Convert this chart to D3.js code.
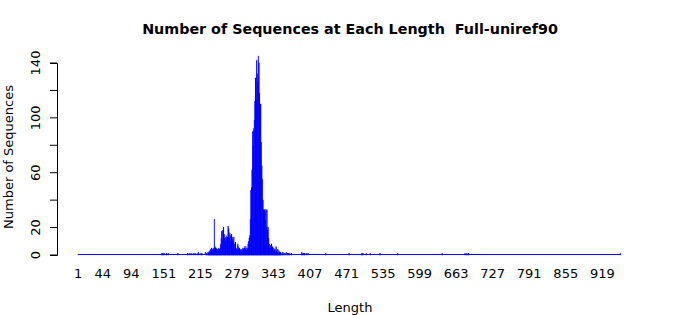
<!DOCTYPE html>
<html>
<head>
<meta charset="utf-8">
<script src="https://cdn.jsdelivr.net/npm/d3@7"></script>
<style>
body { margin: 0; background: #fff; }
text { font-family: "DejaVu Sans", sans-serif; }
</style>
</head>
<body>
<script>
// lengths that have sequences, and how many at each (all other lengths = 0)
var maxLength = 951;
var lengths = [148,150,152,156,159,176,193,196,199,203,206,210,212,215,218,224,226,227,
  229,230,231,232,233,234,235,236,237,238,239,240,241,242,243,244,245,246,247,248,249,250,
  251,252,253,254,255,256,257,258,259,260,261,262,263,264,265,266,267,268,269,270,
  271,272,273,274,275,276,277,278,279,280,281,282,283,284,285,286,287,288,289,290,
  291,292,293,294,295,296,297,298,299,300,301,302,303,304,305,306,307,308,309,310,
  311,312,313,314,315,316,317,318,319,320,321,322,323,324,325,326,327,328,329,330,
  331,332,333,334,335,336,337,338,339,340,341,342,343,344,345,346,347,348,349,350,
  351,352,353,354,355,356,358,360,362,364,366,368,370,372,375,393,394,396,398,401,404,
  435,476,498,500,506,513,530,561,639,679,682,685,951];
var counts = [1,1,1,1,1,1,1,1,1,1,1,1,2,1,1,2,1,1,
  2,1,3,2,4,3,5,4,3,5,4,26,6,5,5,4,3,4,5,3,4,5,
  8,12,17,18,11,20,15,12,10,13,14,11,13,21,19,12,16,14,10,15,
  13,11,9,13,8,6,9,5,4,3,8,6,4,5,3,4,2,4,3,5,
  4,5,6,4,6,3,5,4,8,10,12,14,26,47,49,62,90,80,92,98,
  112,129,113,142,132,126,145,140,118,84,110,82,65,55,40,33,28,33,25,33,
  20,33,18,20,12,8,6,7,5,8,4,6,3,5,3,4,2,6,3,2,
  4,1,3,2,1,2,1,2,1,1,2,1,1,1,1,2,1,1,1,1,1,
  1,1,1,1,1,1,1,1,1,1,1,1,1];
var xTickLabels = [1,44,94,151,215,279,343,407,471,535,599,663,727,791,855,919];
var yTicks = [0,20,40,60,80,100,120,140];
var yTickLabels = [0,20,60,100,140];

var width = 700, height = 315;

// full table 1..maxLength
var lookup = new Map();
lengths.forEach(function(l, i) { lookup.set(l, counts[i]); });
var table = d3.range(1, maxLength + 1).map(function(l) {
  return { len: l, n: lookup.get(l) || 0 };
});

var svg = d3.select("body").append("svg")
  .attr("width", width)
  .attr("height", height);

var x = d3.scaleBand()
  .domain(table.map(function(d) { return d.len; }))
  .range([77.7, 620.6])
  .paddingInner(1/6)
  .paddingOuter(1/12);

var y = d3.scaleLinear()
  .domain([0, 140])
  .range([255, 63]);

// zero-height bars show up as a line along the base
svg.append("line")
  .attr("x1", x(1))
  .attr("x2", x(maxLength) + x.bandwidth())
  .attr("y1", y(0) - 0.5)
  .attr("y2", y(0) - 0.5)
  .attr("stroke", "#0000ff")
  .attr("stroke-width", 1);

// bars
svg.append("g").selectAll("rect")
  .data(table.filter(function(d) { return d.n > 0; }))
  .enter().append("rect")
  .attr("x", function(d) { return x(d.len); })
  .attr("width", x.bandwidth())
  .attr("y", function(d) { return y(d.n); })
  .attr("height", function(d) { return y(0) - y(d.n); })
  .attr("fill", "#0000ff")
  .attr("stroke", "#0000ff")
  .attr("stroke-width", 0.6);

// x labels (no axis line)
var xAxis = svg.append("g")
  .attr("transform", "translate(0,266)")
  .call(d3.axisBottom(x).tickValues(xTickLabels).tickSize(0));
xAxis.select(".domain").remove();
xAxis.selectAll("text")
  .attr("font-size", 13)
  .attr("font-family", "DejaVu Sans")
  .attr("fill", "#000");

// y axis
var yAxis = svg.append("g")
  .attr("transform", "translate(57,0)")
  .call(d3.axisLeft(y).tickValues(yTicks).tickSizeOuter(0).tickSize(7)
    .tickFormat(function(d) { return yTickLabels.indexOf(d) >= 0 ? d : ""; }));
yAxis.select(".domain").attr("stroke", "#000");
yAxis.selectAll(".tick line").attr("stroke", "#000");
yAxis.selectAll("text")
  .attr("font-size", 13)
  .attr("font-family", "DejaVu Sans")
  .attr("fill", "#000")
  .attr("x", 0).attr("dy", 0)
  .attr("text-anchor", "middle")
  .attr("transform", function(d) { return "translate(-21," + y(d) + ") rotate(-90)"; })
  .attr("y", 0)
  .attr("dominant-baseline", "middle");
yAxis.selectAll(".tick").attr("transform", "translate(0,0)");
yAxis.selectAll(".tick line")
  .attr("y1", function(d) { return y(d); })
  .attr("y2", function(d) { return y(d); });

// title
svg.append("text")
  .attr("x", 350).attr("y", 34)
  .attr("text-anchor", "middle")
  .attr("font-size", 14.3)
  .attr("font-weight", "bold")
  .style("white-space", "pre")
  .text("Number of Sequences at Each Length  Full-uniref90");

// axis titles
svg.append("text")
  .attr("x", 350).attr("y", 312)
  .attr("text-anchor", "middle")
  .attr("font-size", 13)
  .text("Length");

svg.append("text")
  .attr("transform", "translate(13,157) rotate(-90)")
  .attr("text-anchor", "middle")
  .attr("font-size", 13)
  .text("Number of Sequences");
</script>
</body>
</html>
